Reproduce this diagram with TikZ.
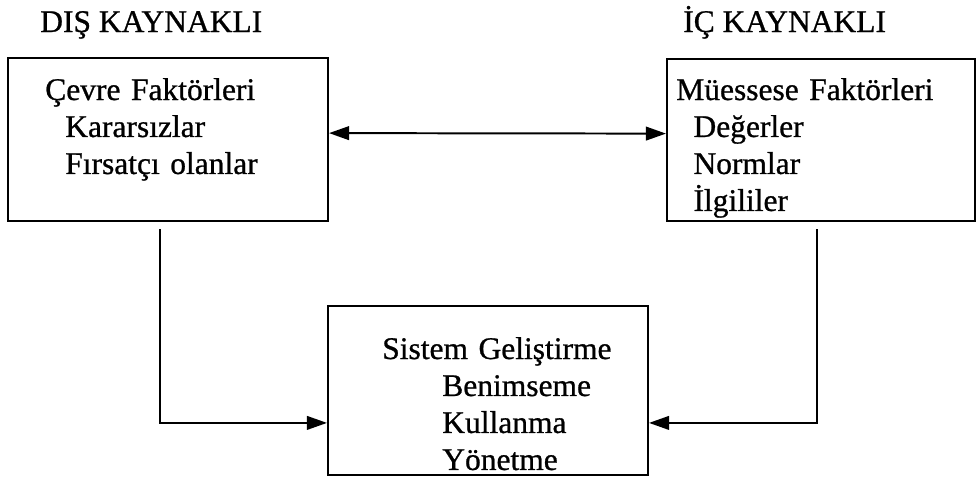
\documentclass[tikz,border=0pt]{standalone}
\usepackage{fontspec}
\setmainfont{Liberation Serif}
\newfontfamily\kalin{Liberation Serif}[FakeBold=0.8]
\usetikzlibrary{positioning,arrows.meta}

\tikzset{
  kutu/.style={draw,line width=1.4pt,inner sep=0pt},
  yazi/.style={anchor=base west,inner sep=0pt,align=left,font=\kalin\fontsize{22.4pt}{26.3pt}\selectfont},
  bag/.style={line width=1.4pt}
}

\begin{document}
\begin{tikzpicture}[x=0.025cm,y=-0.025cm,>={Triangle[length=5mm,width=3.4mm]}]
\useasboundingbox (0,0) rectangle (979,482);
% basliklar
\node[yazi] (dis) at (40,32) {DIŞ KAYNAKLI};
\node[yazi] (ic) at (683,32) {İÇ KAYNAKLI};
% kutular
\node[kutu,minimum width=8cm,minimum height=4.075cm] (cevre) at (168,139.5) {};
\node[kutu,minimum width=7.7cm,minimum height=4.05cm] (muessese) at (821,140) {};
\node[kutu,minimum width=8cm,minimum height=4.225cm] (sistem) at (488,390.5) {};
\node[yazi,text width=7cm] (cevretxt) at (45,100) {Çevre Faktörleri\\\hspace*{0.5cm}Kararsızlar\\\hspace*{0.5cm}Fırsatçı olanlar};
\node[yazi,text width=7cm] (muessesetxt) at (676,100) {Müessese Faktörleri\\\hspace*{0.43cm}Değerler\\\hspace*{0.43cm}Normlar\\\hspace*{0.43cm}İlgililer};
\node[yazi,text width=7cm] (sistemtxt) at (382,359) {Sistem Geliştirme\\\hspace*{1.5cm}Benimseme\\\hspace*{1.5cm}Kullanma\\\hspace*{1.5cm}Yönetme};
% baglantilar
\draw[bag,<->] ([yshift=0.16cm]cevre.east) -- ([yshift=0.16cm]muessese.west);
\draw[bag,->] ([xshift=-0.2cm,yshift=-0.18cm]cevre.south) |- ([yshift=-0.81cm]sistem.west);
\draw[bag,->] ([xshift=-0.1cm,yshift=-0.18cm]muessese.south) |- ([yshift=-0.81cm]sistem.east);
\end{tikzpicture}
\end{document}
